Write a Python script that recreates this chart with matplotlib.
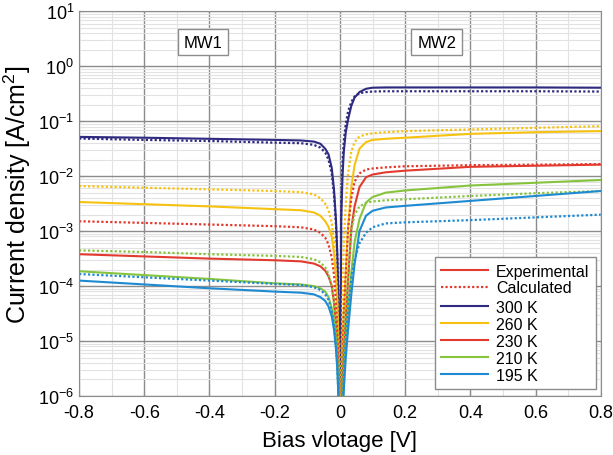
import numpy as np
import matplotlib
matplotlib.use("Agg")
import matplotlib.pyplot as plt
from matplotlib.ticker import FixedLocator, NullFormatter, LogFormatterSciNotation
from matplotlib.offsetbox import DrawingArea

plt.rcParams['font.family'] = ['Liberation Sans', 'DejaVu Sans']
plt.rcParams['mathtext.fontset'] = 'custom'
plt.rcParams['mathtext.rm'] = 'Liberation Sans'
plt.rcParams['mathtext.it'] = 'Liberation Sans:italic'
plt.rcParams['mathtext.bf'] = 'Liberation Sans:bold'

# bias voltage points [V]
bias = [-0.8, -0.6, -0.4, -0.2, -0.12, -0.08, -0.06, -0.045, -0.035, -0.025, -0.018, -0.012, -0.008, -0.004, 0.0,
        0.004, 0.008, 0.012, 0.018, 0.025, 0.035, 0.045, 0.06, 0.08, 0.1, 0.14, 0.2, 0.4, 0.6, 0.8]

# log10 of current density [A/cm2]
log_exp_300 = [-1.285, -1.30, -1.32, -1.34, -1.35, -1.37, -1.41, -1.50, -1.60, -1.85, -2.25, -2.80, -3.40, -4.40, -8.0,
               -2.80, -2.00, -1.55, -1.20, -0.97, -0.72, -0.57, -0.47, -0.41, -0.39, -0.385, -0.385, -0.385, -0.385, -0.39]
log_calc_300 = [-1.315, -1.34, -1.36, -1.39, -1.40, -1.43, -1.48, -1.57, -1.70, -1.95, -2.35, -2.90, -3.50, -4.50, -8.0,
                -2.40, -1.75, -1.35, -1.05, -0.82, -0.65, -0.55, -0.49, -0.47, -0.46, -0.455, -0.455, -0.455, -0.455, -0.46]

log_exp_260 = [-2.47, -2.51, -2.55, -2.60, -2.62, -2.66, -2.72, -2.82, -2.92, -3.10, -3.40, -3.85, -4.30, -5.20, -8.0,
               -6.00, -5.00, -4.50, -3.75, -2.95, -2.20, -1.80, -1.50, -1.38, -1.34, -1.32, -1.30, -1.23, -1.20, -1.18]
log_calc_260 = [-2.18, -2.21, -2.24, -2.27, -2.29, -2.33, -2.40, -2.50, -2.62, -2.85, -3.20, -3.70, -4.20, -5.10, -8.0,
                -5.50, -4.20, -3.20, -2.50, -1.95, -1.55, -1.38, -1.28, -1.24, -1.22, -1.20, -1.18, -1.15, -1.12, -1.09]

log_exp_230 = [-3.42, -3.46, -3.50, -3.53, -3.55, -3.59, -3.64, -3.72, -3.82, -4.00, -4.30, -4.70, -5.10, -5.80, -8.0,
               -6.50, -5.80, -5.20, -4.60, -3.90, -2.95, -2.55, -2.20, -2.02, -1.97, -1.93, -1.90, -1.83, -1.81, -1.79]
log_calc_230 = [-2.82, -2.85, -2.88, -2.91, -2.93, -2.97, -3.03, -3.12, -3.24, -3.48, -3.80, -4.30, -4.80, -5.60, -8.0,
                -6.20, -5.20, -4.50, -3.75, -2.95, -2.40, -2.10, -1.95, -1.88, -1.86, -1.84, -1.82, -1.80, -1.79, -1.78]

log_exp_210 = [-3.73, -3.80, -3.87, -3.95, -3.97, -4.00, -4.04, -4.10, -4.20, -4.40, -4.65, -5.00, -5.35, -6.00, -8.0,
               -6.80, -6.20, -5.60, -5.00, -4.45, -3.75, -3.20, -2.78, -2.48, -2.38, -2.30, -2.26, -2.17, -2.12, -2.07]
log_calc_210 = [-3.35, -3.38, -3.42, -3.45, -3.47, -3.51, -3.57, -3.66, -3.78, -4.00, -4.30, -4.75, -5.20, -5.90, -8.0,
                -6.60, -5.80, -5.10, -4.45, -3.85, -2.97, -2.70, -2.55, -2.49, -2.46, -2.44, -2.42, -2.36, -2.31, -2.27]

log_exp_195 = [-3.90, -3.97, -4.04, -4.10, -4.12, -4.15, -4.20, -4.27, -4.37, -4.55, -4.80, -5.15, -5.50, -6.10, -8.0,
               -6.90, -6.40, -5.90, -5.30, -4.80, -4.15, -3.60, -3.00, -2.72, -2.63, -2.57, -2.54, -2.45, -2.36, -2.27]
log_calc_195 = [-3.78, -3.84, -3.90, -3.96, -3.98, -4.02, -4.07, -4.15, -4.25, -4.45, -4.72, -5.10, -5.45, -6.05, -8.0,
                -6.80, -6.20, -5.60, -5.00, -4.40, -3.85, -3.52, -3.22, -3.03, -2.93, -2.86, -2.84, -2.80, -2.75, -2.70]

temps = ['300 K', '260 K', '230 K', '210 K', '195 K']
colors = ['#2E2A80', '#F7C20F', '#E23A2E', '#86C43C', '#1E8AD2']
exp_series = [log_exp_300, log_exp_260, log_exp_230, log_exp_210, log_exp_195]
calc_series = [log_calc_300, log_calc_260, log_calc_230, log_calc_210, log_calc_195]

x_ticks = [-0.8, -0.6, -0.4, -0.2, 0.0, 0.2, 0.4, 0.6, 0.8]
x_tick_labels = ['-0.8', '-0.6', '-0.4', '-0.2', '0', '0.2', '0.4', '0.6', '0.8']
x_minor = [-0.7, -0.5, -0.3, -0.1, 0.1, 0.3, 0.5, 0.7]
y_decades = [-6, -5, -4, -3, -2, -1, 0, 1]


fig = plt.figure(figsize=(6.13, 4.56), dpi=100)
ax = fig.add_axes([0.129, 0.1294, 0.851, 0.8436])

for c, le, lc in zip(colors, exp_series, calc_series):
    ax.plot(bias, np.power(10.0, lc), color=c, linestyle=(0, (1, 1)), linewidth=1.6)
    ax.plot(bias, np.power(10.0, le), color=c, linestyle='-', linewidth=1.5)

ax.set_yscale('log')
ax.set_xlim(-0.8, 0.8)
ax.set_ylim(1e-6, 1e1)
ax.set_xticks(x_ticks, x_tick_labels)
ax.xaxis.set_minor_locator(FixedLocator(x_minor))
major_y = [10.0 ** d for d in y_decades]
minor_y = [m * 10.0 ** d for d in y_decades[:-1] for m in range(2, 10)]
ax.yaxis.set_major_locator(FixedLocator(major_y))
ax.yaxis.set_major_formatter(LogFormatterSciNotation())
ax.yaxis.set_minor_locator(FixedLocator(minor_y))
ax.yaxis.set_minor_formatter(NullFormatter())

ax.grid(True, which='major', color='#8c8c8c', linewidth=1.0)
ax.grid(True, which='minor', color='#e2e2e2', linewidth=0.8)
ax.set_axisbelow(True)
ax.tick_params(which='both', direction='in', labelsize=13, color='#8c8c8c')
ax.tick_params(which='minor', length=0)
ax.tick_params(axis='x', pad=6)
for s in ax.spines.values():
    s.set_color('#8c8c8c')

ax.set_xlabel('Bias vlotage [V]', fontsize=16, labelpad=6)
ax.set_ylabel('Current density [A/cm$^2$]', fontsize=18)
ax.yaxis.set_label_coords(-0.088, 0.525)

box = dict(boxstyle='square,pad=0.35', facecolor='white', edgecolor='#8c8c8c', linewidth=1)
ax.text(-0.42, 2.75, 'MW1', fontsize=12, ha='center', va='center', bbox=box)
ax.text(0.297, 2.75, 'MW2', fontsize=12, ha='center', va='center', bbox=box)

# legend: style entries (red), then temperature entries
handles = [plt.Line2D([], [], color=colors[2], linestyle='-', linewidth=1.5),
           plt.Line2D([], [], color=colors[2], linestyle=(0, (1, 1)), linewidth=1.6)]
labels = ['Experimental', 'Calculated']
for c, t in zip(colors, temps):
    handles.append(plt.Line2D([], [], color=c, linewidth=1.5))
    labels.append(t)
leg = ax.legend(handles, labels, loc='lower right', bbox_to_anchor=(0.99, 0.018), borderaxespad=0,
                fontsize=11.5, fancybox=False, framealpha=1, edgecolor='#8c8c8c', handlelength=2.9,
                handletextpad=0.5, labelspacing=0.12, borderpad=0.4)
leg.get_frame().set_linewidth(1.0)
col = leg._legend_handle_box.get_children()[0]
col.get_children().insert(2, DrawingArea(1, 0.5))

fig.savefig('out.png', dpi=100)
